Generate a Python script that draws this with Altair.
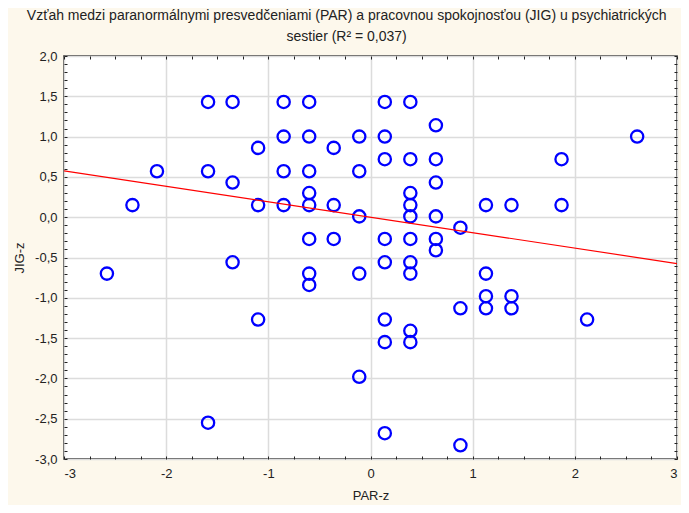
import altair as alt
import pandas as pd

# ---- data ----
par_z = [
    -2.58,
    -2.33,
    -2.09,
    -1.59, -1.59, -1.59,
    -1.35, -1.35, -1.35,
    -1.10, -1.10, -1.10,
    -0.85, -0.85, -0.85, -0.85,
    -0.60, -0.60, -0.60, -0.60, -0.60, -0.60, -0.60, -0.60,
    -0.36, -0.36, -0.36,
    -0.11, -0.11, -0.11, -0.11, -0.11,
    0.14, 0.14, 0.14, 0.14, 0.14, 0.14, 0.14, 0.14,
    0.39, 0.39, 0.39, 0.39, 0.39, 0.39, 0.39, 0.39, 0.39, 0.39,
    0.64, 0.64, 0.64, 0.64, 0.64, 0.64,
    0.88, 0.88, 0.88,
    1.13, 1.13, 1.13, 1.13,
    1.38, 1.38, 1.38,
    1.87, 1.87,
    2.12,
    2.61,
]
jig_z = [
    -0.70,
    0.15,
    0.57,
    1.43, 0.57, -2.55,
    1.43, 0.43, -0.56,
    0.86, 0.15, -1.27,
    1.43, 1.00, 0.57, 0.15,
    1.43, 1.00, 0.57, 0.30, 0.15, -0.27, -0.70, -0.84,
    0.86, 0.15, -0.27,
    1.00, 0.57, 0.01, -0.70, -1.98,
    1.43, 1.00, 0.72, -0.27, -0.56, -1.27, -1.55, -2.68,
    1.43, 0.72, 0.30, 0.15, 0.01, -0.27, -0.56, -0.70, -1.41, -1.55,
    1.14, 0.72, 0.43, 0.01, -0.27, -0.41,
    -0.13, -1.13, -2.83,
    0.15, -0.70, -0.98, -1.13,
    0.15, -0.98, -1.13,
    0.72, 0.15,
    -1.27,
    1.00,
]

# fitted regression line endpoints
fit_x = [-3.0, 3.0]
fit_y = [0.575, -0.575]

x_major = [-3, -2, -1, 0, 1, 2, 3]
y_major = [-3.0, -2.5, -2.0, -1.5, -1.0, -0.5, 0.0, 0.5, 1.0, 1.5, 2.0]
x_minor = [round(-3 + 0.25 * i, 2) for i in range(25)]
y_minor = [round(-3 + 0.1 * i, 2) for i in range(51)]

title_lines = [
    "Vzťah medzi paranormálnymi presvedčeniami (PAR) a pracovnou spokojnosťou (JIG) u psychiatrických",
    "sestier (R² = 0,037)",
]

points = pd.DataFrame({"PAR": par_z, "JIG": jig_z})
fit = pd.DataFrame({"PAR": fit_x, "JIG": fit_y})

W, H = 613, 403
FONT = "Liberation Sans"
xs = alt.Scale(domain=[-3, 3], nice=False, zero=False)
ys = alt.Scale(domain=[-3, 2], nice=False, zero=False)

x_lab = "(datum.value < 0 ? '-' : '') + format(abs(datum.value), 'd')"
y_lab = "(datum.value < 0 ? '-' : '') + replace(format(abs(datum.value), '.1f'), '.', ',')"

main_x = alt.Axis(values=x_major, grid=True, gridColor="#DCDCDC", gridWidth=1.5,
                  ticks=False, domain=False, labelExpr=x_lab, labelFont=FONT,
                  labelFontSize=13, labelColor="#222", labelPadding=8,
                  title="PAR-z", titleFont=FONT, titleFontSize=13,
                  titleFontWeight="normal", titleColor="#222", titlePadding=9)
main_y = alt.Axis(values=y_major, grid=True, gridColor="#DCDCDC", gridWidth=1.5,
                  ticks=False, domain=False, labelExpr=y_lab, labelFont=FONT,
                  labelFontSize=13, labelColor="#222", labelPadding=7,
                  title="JIG-z", titleFont=FONT, titleFontSize=13,
                  titleFontWeight="normal", titleColor="#222", titlePadding=8)


def tick_axis(vals, orient, offset):
    return alt.Axis(values=vals, orient=orient, offset=offset, labels=False,
                    grid=False, domain=False, ticks=True, tickSize=3,
                    tickColor="#222", tickWidth=1, title="")


pts = alt.Chart(points).mark_point(
    shape="circle", filled=False, size=150, strokeWidth=2.3,
    color="#0000FF", opacity=1
).encode(
    x=alt.X("PAR:Q", scale=xs, axis=main_x),
    y=alt.Y("JIG:Q", scale=ys, axis=main_y),
)

line = alt.Chart(fit).mark_line(color="#FF0000", strokeWidth=1.2, clip=True).encode(
    x=alt.X("PAR:Q", scale=xs, axis=tick_axis(x_minor, "top", -H)),
    y=alt.Y("JIG:Q", scale=ys, axis=tick_axis(y_minor, "right", -W)),
)

ghost = alt.Chart(fit).mark_point(opacity=0).encode(
    x=alt.X("PAR:Q", scale=xs, axis=tick_axis(x_minor, "bottom", -H)),
    y=alt.Y("JIG:Q", scale=ys, axis=tick_axis(y_minor, "left", -W)),
)

chart = alt.layer(pts, line, ghost).resolve_axis(
    x="independent", y="independent"
).properties(
    width=W, height=H,
    title=alt.TitleParams(title_lines, anchor="middle", frame="bounds",
                          font=FONT, fontSize=14, fontWeight="normal",
                          color="#222", lineHeight=21, offset=6),
    autosize=alt.AutoSizeParams(type="none"),
    padding={"left": 56, "top": 48, "right": 4, "bottom": 46},
    background="#FDF8EC",
).configure_view(
    stroke="#222", strokeWidth=1.5, fill="white"
)

chart.save("out.html", embed_options={"renderer": "svg", "actions": False})
